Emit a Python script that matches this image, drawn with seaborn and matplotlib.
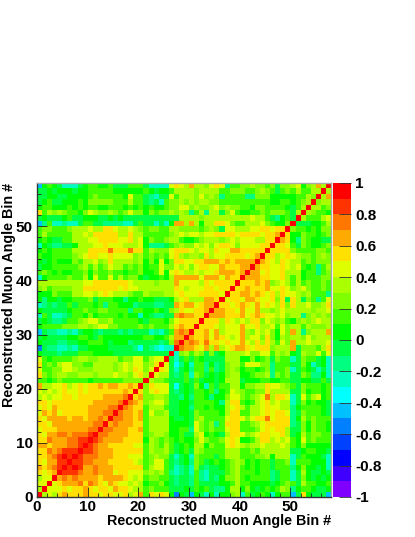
import numpy as np
import matplotlib
matplotlib.use('Agg')
import matplotlib.pyplot as plt
from matplotlib.colors import ListedColormap
import seaborn as sns

n_bins = 58
tick_values = [0, 10, 20, 30, 40, 50]
cbar_values = [-1, -0.8, -0.6, -0.4, -0.2, 0, 0.2, 0.4, 0.6, 0.8, 1]
cbar_labels = ['-1', '-0.8', '-0.6', '-0.4', '-0.2', '0', '0.2', '0.4', '0.6', '0.8', '1']
axis_label = 'Reconstructed Muon Angle Bin #'

palette = ['#8000ff', '#4000ff', '#0000ff', '#0040ff', '#0080ff', '#00c0ff', '#00ffff',
           '#00ffbf', '#00ff80', '#00ff40', '#00ff00', '#40ff00', '#80ff00', '#aaff00',
           '#ddff00', '#ffe000', '#ffaa00', '#ff7700', '#ff3300', '#ff0000']

# rows 1-27, bins below the diagonal
near_rows = [
    [3],
    [4, 4],
    [3, 4, 4],
    [5, 4, 5, 6],
    [6, 5, 6, 7, 8],
    [5, 4, 6, 6, 8, 8],
    [5, 5, 6, 7, 8, 9, 8],
    [5, 5, 7, 6, 7, 8, 8, 8],
    [6, 6, 5, 6, 6, 6, 7, 7, 8],
    [5, 5, 7, 6, 6, 6, 7, 7, 8, 8],
    [5, 4, 6, 6, 7, 7, 6, 7, 7, 7, 8],
    [4, 5, 5, 5, 6, 6, 6, 6, 6, 6, 7, 7],
    [5, 5, 4, 6, 6, 6, 6, 6, 6, 6, 6, 7, 7],
    [5, 4, 6, 6, 6, 6, 5, 6, 6, 5, 6, 6, 7, 6],
    [4, 6, 5, 6, 4, 5, 5, 5, 5, 5, 6, 6, 6, 7, 7],
    [4, 5, 4, 6, 5, 5, 5, 5, 5, 5, 6, 6, 6, 6, 7, 7],
    [5, 5, 4, 5, 5, 5, 5, 5, 5, 5, 5, 6, 6, 6, 6, 6, 7],
    [3, 4, 3, 4, 4, 5, 5, 4, 5, 5, 5, 5, 5, 6, 6, 6, 6, 7],
    [4, 3, 4, 3, 4, 5, 4, 4, 5, 4, 5, 5, 5, 5, 5, 5, 5, 6, 5],
    [6, 3, 3, 4, 4, 5, 3, 4, 5, 4, 5, 5, 6, 5, 6, 6, 5, 5, 6, 5],
    [1, 1, 0, 1, 2, 1, 1, 1, 1, 1, 0, 1, 1, 1, 1, 1, 1, 2, 2, 2, 2],
    [5, 2, 1, 2, 3, 3, 2, 2, 3, 3, 3, 2, 3, 3, 3, 4, 3, 3, 2, 4, 5, 3],
    [4, 1, 1, 2, 2, 4, 4, 3, 2, 2, 2, 3, 3, 3, 3, 2, 3, 4, 3, 5, 4, 2, 4],
    [5, 1, 2, 1, 3, 4, 4, 2, 2, 1, 1, 3, 3, 3, 3, 2, 3, 4, 3, 4, 4, 2, 3, 5],
    [4, 1, 0, 1, 1, 1, 1, 2, 3, 3, 2, 2, 3, 3, 3, 3, 1, 2, 2, 4, 4, 1, 3, 4, 4],
    [0, -1, -1, -1, -2, -1, -1, -1, 1, 1, 1, 0, 0, 0, 0, -1, -1, -1, -1, -1, -1, -1, -1, -1, -1, -1],
    [-6, -1, -2, -2, -3, -3, -2, -3, -1, -1, 0, 0, 0, 0, -1, -1, -1, -1, -1, -2, -4, -1, -2, -3, -4, -3, -3],
]

# rows 28-57, bins 0-27
cross_rows = [
    [0, -1, -1, -1, -2, -2, -1, -1, 0, 0, 1, 1, 1, 0, -1, 0, 0, 0, -2, -1, -1, -1, -1, -1, -2, -1, 2, 7],
    [-1, 0, -1, -1, -1, -1, 0, 0, 1, 1, 0, -1, 1, 0, 0, 0, 0, 0, 0, 0, 0, 1, 1, 0, 0, 1, 3, 6],
    [-5, -1, -2, -2, -3, -3, -2, -3, -1, 0, 0, -1, -2, -1, -1, -1, -2, -1, -2, -1, -1, -1, -3, -2, -3, -1, 1, 6],
    [0, 1, 1, 1, 1, 2, 2, 2, 3, 3, 2, 3, 4, 4, 2, 2, 1, 1, 1, 1, 2, 1, 2, 1, 1, 1, 3, 5],
    [-1, 0, -1, -2, -2, -1, 1, 1, 2, 3, 4, 4, 2, 2, 3, 1, 1, 1, 1, 1, 0, -1, 1, 1, 1, 0, 2, 4],
    [-3, 1, -1, -3, -3, -2, -1, 1, 1, 0, 2, 0, 1, 1, 1, 1, 0, 1, 0, 0, -3, 0, -1, -2, -2, -1, -1, 6],
    [0, -1, -1, -1, -1, -1, 0, 1, 1, 2, 1, 1, 2, 2, 1, 1, 1, 1, -2, 1, 1, 0, 0, 1, 0, -1, 2, 3],
    [-3, -2, -1, -2, -1, -1, 1, -1, 1, 1, 1, 0, 1, -2, 1, 1, 0, 0, 0, -2, -1, -1, -1, -2, -2, -1, -1, 6],
    [0, -2, 0, 0, -1, 0, 0, 1, 1, 1, 2, -1, 1, 1, 1, 0, 0, -2, 0, 0, 1, 0, 0, -1, -1, -1, 0, 3],
    [0, 0, 0, 2, 1, 1, 1, 3, 3, 4, 4, 3, 4, 5, 4, 3, 3, 3, 2, 1, 1, 3, 2, 2, 2, 3, 3, 4],
    [2, 3, 1, 2, 2, 2, 2, 3, 3, 5, 5, 5, 5, 5, 5, 5, 4, 5, 4, 4, 3, 3, 3, 3, 3, 3, 3, 5],
    [3, 3, 3, 3, 3, 3, 3, 3, 3, 4, 4, 5, 5, 5, 5, 5, 5, 5, 4, 3, 3, 3, 3, 2, 3, 3, 3, 6],
    [-3, 0, 1, 1, 1, 1, 2, 1, 1, 3, 0, 4, 1, 1, 4, 1, 3, 1, 2, 2, 0, -1, 0, 0, 1, 0, 3, 6],
    [1, 2, 1, 0, 1, 0, 0, 1, 1, 2, 0, 2, 1, 1, 2, 1, 1, 0, 1, 1, 2, 0, 0, 1, 4, 0, 4, 5],
    [-1, 0, 0, 1, 1, 1, 1, 1, 2, 3, 1, 3, 1, 2, 4, 3, 3, 1, 2, 1, 2, 0, 1, 1, 4, 2, 2, 4],
    [0, -1, 0, 1, 0, 0, 0, 2, 1, 3, 3, 4, 2, 3, 5, 3, 3, 3, 3, 2, 3, 0, 2, 0, 4, 0, 2, 5],
    [1, 0, 0, 1, 1, 1, 1, 2, 3, 4, 5, 5, 4, 4, 5, 4, 4, 4, 4, 2, 3, 1, 2, 1, 2, 1, 4, 5],
    [0, 1, 0, 1, 1, 1, 1, 3, 3, 3, 5, 5, 5, 5, 7, 5, 5, 5, 7, 5, 5, 1, 3, 2, 2, 2, 4, 5],
    [-3, 0, -1, -2, -2, -1, -1, 0, 3, 3, 3, 4, 4, 5, 4, 4, 4, 3, 3, 3, 4, 0, -2, -2, -2, -1, 1, 2],
    [0, 1, 0, -1, -1, 1, 1, 3, 3, 3, 4, 4, 5, 5, 5, 5, 4, 4, 5, 3, 4, 0, 2, 1, 1, 2, 3, 3],
    [1, 3, 1, 1, 1, 1, 1, 3, 3, 4, 3, 5, 5, 5, 5, 5, 3, 3, 5, 3, 3, 1, 1, 1, 1, 1, 2, 3],
    [1, 2, 2, 1, 1, 1, 2, 3, 3, 3, 4, 3, 3, 5, 5, 4, 3, 3, 4, 3, 2, 1, 2, 2, 1, 1, 3, 3],
    [-5, -2, 1, -3, -3, -2, -3, -3, -1, 1, 1, -1, -1, -2, -2, -2, -2, -3, -3, -1, 1, -1, -1, -3, -1, -3, 0, 6],
    [-1, 0, -1, -1, -1, 0, 1, -1, -1, 0, 0, 0, -1, -1, 0, -1, 0, -1, -1, -1, -1, -1, -1, -1, -1, -1, -1, -1],
    [5, 1, 3, 2, 3, 2, 1, 1, 0, 2, 4, 3, 2, 2, 3, 2, 1, 2, 4, 2, 2, 0, 2, 1, 2, 2, 3, 2],
    [0, 1, 1, 0, 0, 0, 1, 0, 1, 0, 1, 1, 0, 0, 1, 1, 1, 0, 1, 0, 1, 0, 1, 0, 0, 1, 2, 2],
    [-1, 0, 1, -1, -1, 0, 0, 0, 1, 0, 2, 2, 2, 2, 2, 1, 1, 1, 3, 1, 1, -1, -2, -1, -3, 1, 2, 2],
    [-1, -1, 0, 0, -1, -1, 0, 0, 0, 0, 1, 2, 1, 1, 1, 1, 1, 0, 4, 1, 1, -1, -2, -3, -1, -1, 4, 1],
    [-1, -1, 0, -1, 0, 0, 0, -1, 0, 0, 1, 1, 1, 1, 1, 0, 0, 0, 0, 0, 0, 1, 0, -1, 0, 0, 1, 3],
    [-5, 0, 1, 0, -1, -3, -3, -3, -1, 0, 1, 1, 0, 0, 1, -1, -1, -1, 1, 1, 1, -1, -3, -3, -3, -3, 4, 5],
]

# rows 29-57, bins 28 up to the diagonal
far_rows = [
    [6],
    [7, 6],
    [6, 5, 5],
    [5, 5, 5, 5],
    [7, 6, 6, 5, 5],
    [5, 4, 4, 5, 5, 6],
    [5, 6, 6, 4, 5, 6, 6],
    [4, 5, 3, 3, 3, 6, 6, 5],
    [5, 4, 4, 4, 5, 5, 5, 5, 4],
    [4, 3, 4, 4, 4, 5, 5, 4, 5, 5],
    [4, 4, 4, 4, 3, 5, 4, 5, 5, 5, 5],
    [6, 6, 6, 6, 4, 6, 6, 6, 4, 6, 5, 5],
    [4, 3, 3, 4, 3, 4, 4, 5, 6, 6, 6, 5, 6],
    [3, 4, 2, 4, 5, 5, 4, 4, 6, 5, 5, 5, 6, 6],
    [5, 4, 4, 5, 5, 6, 6, 6, 5, 6, 5, 6, 6, 6, 6],
    [3, 2, 3, 3, 2, 5, 3, 4, 4, 5, 5, 5, 5, 4, 5, 6],
    [5, 5, 4, 3, 4, 4, 3, 5, 4, 4, 6, 6, 5, 5, 5, 5, 5],
    [3, 2, 2, 4, 3, 4, 2, 4, 5, 5, 4, 2, 4, 4, 4, 4, 5, 5],
    [1, 0, 0, 1, 2, 3, 3, 3, 2, 3, 4, 3, 4, 4, 4, 3, 3, 5, 5],
    [4, 3, 4, 4, 3, 4, 4, 5, 5, 5, 5, 4, 5, 5, 5, 5, 4, 5, 5, 6],
    [2, 2, 2, 2, 1, 2, 3, 2, -1, 4, 4, 3, 3, 3, 4, 4, 5, 5, 4, 5, 5],
    [6, 3, 6, 3, 0, 3, 3, 5, 5, 4, 2, 1, 1, 3, 3, 3, 4, 2, 1, 0, 0, 2],
    [3, 3, 3, 3, 2, 3, 3, 3, 3, 3, 3, 3, 3, 3, 4, 3, 3, 1, -1, -2, 0, 1, -1],
    [3, 2, -2, 1, 3, -2, 3, 3, -1, 2, 4, 1, 0, 0, 1, 1, 2, 1, 2, 2, 2, 1, -1, 3],
    [4, 4, 2, 3, 2, 2, 3, 4, 2, 3, 2, 2, 1, 1, 0, 2, 2, 1, 1, 1, 1, 0, -1, 1, 3],
    [3, 2, 3, 2, 3, 3, 2, 2, 1, 1, 1, 1, 1, 1, 1, 1, 1, 1, 0, 0, 1, 1, 0, 1, 2, 3],
    [3, 3, 3, 2, 4, 2, 3, 2, -2, 1, 1, 1, 1, -2, -2, 2, 2, 2, 0, 0, 0, 0, 0, 1, 1, 3, 2],
    [3, 3, 3, 2, 3, 3, 3, 3, 1, 1, 2, 2, 2, 1, 1, 2, 3, 2, 1, -1, 1, 2, 1, 3, 1, 1, 3, 3],
    [4, 3, 6, 3, 3, 2, 4, 5, 4, -2, 1, 1, 2, 2, 3, 2, 2, 1, 2, -1, 2, 2, 3, 4, 0, 2, 3, 6, 3],
]

# the matrix is symmetric so only the lower half was read
levels = np.full((n_bins, n_bins), 9.0)
for i, row in enumerate(near_rows):
    levels[i + 1, :i + 1] = row
for i, row in enumerate(cross_rows):
    levels[i + 28, :28] = row
for i, row in enumerate(far_rows):
    levels[i + 29, 28:i + 29] = row
upper = np.triu_indices(n_bins, 1)
levels[upper] = levels.T[upper]
corr = (levels + 0.5) / 10

plt.rcParams['font.family'] = ['Liberation Sans']
plt.rcParams['font.weight'] = 'bold'

W, H = 415, 537
fig = plt.figure(figsize=(W / 100, H / 100), dpi=100)
ax = fig.add_axes([37 / W, 1 - 497 / H, 294 / W, 314 / H])
cax = fig.add_axes([333 / W, 1 - 497 / H, 18 / W, 314 / H])

sns.heatmap(corr, ax=ax, cbar_ax=cax, cmap=ListedColormap(palette), vmin=-1, vmax=1,
            square=False, xticklabels=False, yticklabels=False, rasterized=True)
ax.invert_yaxis()

ax.set_xticks(tick_values)
ax.set_yticks(tick_values)
ax.set_xticklabels(tick_values, fontsize=11, fontweight='bold')
ax.set_yticklabels(tick_values, fontsize=11, fontweight='bold')
ax.set_xticks(range(0, n_bins + 1, 2), minor=True)
ax.set_yticks(range(0, n_bins + 1, 2), minor=True)
ax.tick_params(which='major', direction='in', length=7, width=0.6, color='#222222', pad=3)
ax.tick_params(which='minor', direction='in', length=3, width=0.6, color='#222222')
ax.tick_params(axis='x', which='major', pad=2)
for side in ['left', 'bottom']:
    ax.spines[side].set_visible(True)
    ax.spines[side].set_linewidth(1)
    ax.spines[side].set_color('#333333')
for side in ['top', 'right']:
    ax.spines[side].set_visible(True)
    ax.spines[side].set_linewidth(1)
    ax.spines[side].set_color('#aaaaaa')

fig.text(331 / W, 1 - 521 / H, axis_label, ha='right', va='center', fontsize=10.25, fontweight='bold')
fig.text(9 / W, 1 - 183 / H, axis_label, ha='center', va='top', rotation=90, fontsize=10.25, fontweight='bold')

cax.yaxis.set_ticks_position('right')
cax.set_yticks(cbar_values)
cax.set_yticklabels(cbar_labels, fontsize=11, fontweight='bold')
cax.tick_params(direction='in', length=9, width=0.6, color='#333333', pad=3)
cax.minorticks_off()
for spine in cax.spines.values():
    spine.set_visible(False)

fig.savefig('out.png', dpi=100)
